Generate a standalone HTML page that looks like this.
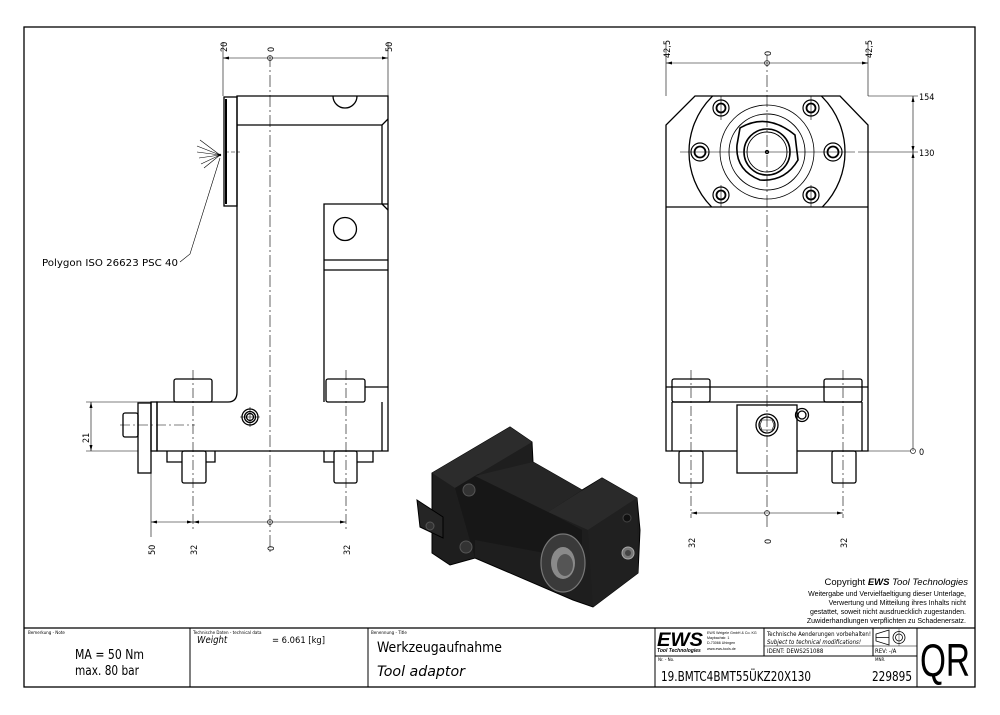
<!DOCTYPE html>
<html><head><meta charset="utf-8"><style>
html,body{margin:0;padding:0;background:#fff;}
svg{display:block;font-family:"DejaVu Sans Condensed","Liberation Sans",sans-serif;}
</style></head><body>
<svg width="1000" height="715" viewBox="0 0 1000 715" xmlns="http://www.w3.org/2000/svg">
<rect x="0" y="0" width="1000" height="715" fill="#fff"/>
<rect x="24" y="27" width="951" height="660" fill="none" stroke="#000" stroke-width="1.3"/>
<line x1="24" y1="628" x2="975" y2="628" stroke="#000" stroke-width="1.3"/>
<g stroke="#000" stroke-width="1" fill="none">
<line x1="190" y1="628" x2="190" y2="687"/>
<line x1="368" y1="628" x2="368" y2="687"/>
<line x1="655" y1="628" x2="655" y2="687"/>
<line x1="764" y1="628" x2="764" y2="656"/>
<line x1="873" y1="628" x2="873" y2="656"/>
<line x1="917" y1="628" x2="917" y2="687"/>
<line x1="764" y1="646" x2="917" y2="646" stroke-width="0.6"/>
<line x1="655" y1="656" x2="917" y2="656"/>
<path d="M876 634 L889 630 L889 645 L876 641 Z M876 637.5 H889" stroke-width="0.8"/>
<circle cx="899" cy="637.5" r="6" stroke-width="0.8"/><circle cx="899" cy="637.5" r="3.5" stroke-width="0.8"/>
<line x1="899" y1="629" x2="899" y2="646" stroke-width="0.4"/>
</g>
<g font-size="4.5" fill="#000">
<text x="28" y="634">Bemerkung - Note</text>
<text x="193" y="634">Technische Daten - technical data</text>
<text x="371" y="634">Benennung - Title</text>
<text x="658" y="661">Nr. - No.</text>
<text x="875" y="661">MNR.</text>
</g>
<g fill="#000">
<text x="75" y="659" font-size="13" textLength="69" lengthAdjust="spacingAndGlyphs">MA = 50 Nm</text>
<text x="75" y="675" font-size="13" textLength="64" lengthAdjust="spacingAndGlyphs">max. 80 bar</text>
<text x="197" y="643" font-size="9.5" font-style="italic">Weight</text>
<text x="272" y="643" font-size="9" textLength="53" lengthAdjust="spacingAndGlyphs">=  6.061 [kg]</text>
<text x="377" y="652" font-size="14" textLength="125" lengthAdjust="spacingAndGlyphs">Werkzeugaufnahme</text>
<text x="377" y="676" font-size="14" font-style="italic" textLength="88" lengthAdjust="spacingAndGlyphs">Tool adaptor</text>
<text x="661" y="681" font-size="13" textLength="150" lengthAdjust="spacingAndGlyphs">19.BMTC4BMT55ÜKZ20X130</text>
<text x="872" y="681" font-size="13" textLength="40" lengthAdjust="spacingAndGlyphs">229895</text>
<text x="920" y="676" font-size="46" font-family="Liberation Sans, sans-serif" textLength="50" lengthAdjust="spacingAndGlyphs">QR</text>
<text x="767" y="636" font-size="6.3" textLength="104" lengthAdjust="spacingAndGlyphs">Technische Aenderungen vorbehalten!</text>
<text x="767" y="644" font-size="6.3" font-style="italic" textLength="94" lengthAdjust="spacingAndGlyphs">Subject to technical modifications!</text>
<text x="767" y="653" font-size="6">IDENT:  DEWS251088</text>
<text x="875" y="653" font-size="6">REV:  -/A</text>
<text x="657" y="646" font-size="19" font-weight="bold" font-style="italic" font-family="Liberation Sans, sans-serif" textLength="46" lengthAdjust="spacingAndGlyphs">EWS</text>
<text x="657" y="652" font-size="5" font-weight="bold" font-style="italic" font-family="Liberation Sans, sans-serif">Tool Technologies</text>
<g font-size="3.6" font-family="Liberation Sans, sans-serif">
<text x="707" y="634">EWS Weigele GmbH &amp; Co. KG</text>
<text x="707" y="639">Maybachstr. 1</text>
<text x="707" y="644">D-73066 Uhingen</text>
<text x="707" y="650">www.ews-tools.de</text>
</g>
<g font-family="Liberation Sans, sans-serif">
<text x="968" y="585" font-size="9.5" text-anchor="end">Copyright <tspan font-weight="bold" font-style="italic">EWS</tspan><tspan font-style="italic"> Tool Technologies</tspan></text>
<text x="966" y="596" font-size="7" text-anchor="end">Weitergabe und Vervielfaeltigung dieser Unterlage,</text>
<text x="966" y="605" font-size="7" text-anchor="end">Verwertung und Mitteilung ihres Inhalts nicht</text>
<text x="966" y="614" font-size="7" text-anchor="end">gestattet, soweit nicht ausdruecklich zugestanden.</text>
<text x="966" y="623" font-size="7" text-anchor="end">Zuwiderhandlungen verpflichten zu Schadenersatz.</text>
</g>
</g>

<!-- LEFT VIEW -->
<g stroke="#000" fill="none" stroke-width="1.3">
<rect x="224" y="97" width="13" height="109"/>
<line x1="226" y1="99" x2="226" y2="204" stroke-width="2"/>
<path d="M237 96 H388 V451 H157 V402 H228 Q237 402 237 392 Z"/>
<line x1="237" y1="125" x2="382" y2="125"/>
<path d="M388 119 L382 125 V204 M382 204 L388 210"/>
<path d="M388 204 H324 V402"/>
<line x1="324" y1="260" x2="388" y2="260"/>
<line x1="324" y1="270" x2="388" y2="270"/>
<circle cx="345" cy="229" r="11.5"/>
<path d="M333 96 A12 12 0 0 0 357 96"/>
<line x1="382" y1="402" x2="382" y2="451"/>
<rect x="151" y="402" width="6" height="49"/>
<rect x="138" y="403" width="13" height="70"/>
<rect x="123" y="413" width="15" height="24" rx="2"/>
<rect x="174" y="379" width="38" height="23" rx="2"/>
<rect x="326" y="379" width="39" height="23" rx="2"/>
<line x1="365" y1="387" x2="388" y2="387"/>
<path d="M167 451 V462 H182 M206 462 H215 V451"/>
<rect x="182" y="451" width="24" height="32" rx="2"/>
<path d="M324 451 V462 H334 M357 462 H373 V451"/>
<rect x="334" y="451" width="23" height="32" rx="2"/>
<circle cx="250" cy="417" r="8"/><circle cx="250" cy="417" r="5.5"/><circle cx="250" cy="417" r="3.5"/>
</g>
<g stroke="#000" fill="none" stroke-width="0.6">
<line x1="270" y1="55" x2="270" y2="555" stroke-dasharray="12,3,2,3"/>
<line x1="193" y1="370" x2="193" y2="530" stroke-dasharray="10,3,2,3"/>
<line x1="346" y1="370" x2="346" y2="530" stroke-dasharray="10,3,2,3"/>
<line x1="120" y1="425" x2="195" y2="425" stroke-dasharray="10,3,2,3"/>
<line x1="240" y1="417" x2="260" y2="417"/><line x1="250" y1="407" x2="250" y2="427"/>
<line x1="225" y1="152" x2="240" y2="152" stroke-dasharray="4,2"/>
<line x1="223" y1="42" x2="223" y2="96"/><line x1="388" y1="42" x2="388" y2="96"/>
<line x1="223" y1="58" x2="388" y2="58"/>
<circle cx="270" cy="58" r="2.5"/>
<line x1="151" y1="473" x2="151" y2="537"/>
<line x1="151" y1="522" x2="346" y2="522"/>
<circle cx="270" cy="522" r="2.5"/>
<line x1="86" y1="402" x2="157" y2="402"/><line x1="86" y1="451" x2="138" y2="451"/>
<line x1="91" y1="402" x2="91" y2="451"/>
<polyline points="180,262 190,254 220,158"/>
<path d="M220 155 L200 140 M220 155 L197 146 M220 155 L197 152 M220 155 L199 158 M220 155 L201 164 M220 155 L204 168"/>
</g>
<g fill="#000">
<path d="M223 58 l6 -1.5 v3z M388 58 l-6 -1.5 v3z M151 522 l6 -1.5 v3z M193 522 l-6 -1.5 v3z M193 522 l6 -1.5 v3z M346 522 l-6 -1.5 v3z M91 402 l-1.5 6 h3z M91 451 l-1.5 -6 h3z"/>
<circle cx="220" cy="155" r="1.2"/>
</g>
<g font-size="9" fill="#000">
<text transform="translate(227,52) rotate(-90)">20</text>
<text transform="translate(274,52) rotate(-90)">0</text>
<text transform="translate(392,52) rotate(-90)">50</text>
<text transform="translate(155,555) rotate(-90)">50</text>
<text transform="translate(197,555) rotate(-90)">32</text>
<text transform="translate(274,551) rotate(-90)">0</text>
<text transform="translate(350,555) rotate(-90)">32</text>
<text transform="translate(89,443) rotate(-90)">21</text>
<text x="42" y="266" font-size="9.5" textLength="136" lengthAdjust="spacingAndGlyphs">Polygon ISO 26623 PSC 40</text>
</g>

<!-- RIGHT VIEW -->
<defs><clipPath id="fl"><rect x="660" y="96" width="215" height="111"/></clipPath></defs>
<g stroke="#000" fill="none" stroke-width="1.3">
<path d="M695 96 H840 L868 125 V451 H666 V125 Z"/>
<line x1="666" y1="207" x2="868" y2="207"/>
<circle cx="767" cy="152" r="78" clip-path="url(#fl)"/>
<circle cx="767" cy="152" r="47" stroke-width="0.8"/>
<circle cx="767" cy="152" r="38" stroke-width="0.9"/>
<path d="M740 128 Q767 112 795 135 L798 160 Q785 182 760 180 Q735 170 737 145 Z" stroke-width="1.6"/>
<circle cx="767" cy="152" r="23" stroke-width="1.6"/>
<circle cx="767" cy="152" r="20" stroke-width="0.9"/>
<circle cx="767" cy="152" r="1.5"/>
<g stroke-width="1.2">
<circle cx="721" cy="108" r="8"/><circle cx="721" cy="108" r="4.5" stroke-width="1.8"/>
<circle cx="811" cy="108" r="8"/><circle cx="811" cy="108" r="4.5" stroke-width="1.8"/>
<circle cx="721" cy="195" r="8"/><circle cx="721" cy="195" r="4.5" stroke-width="1.8"/>
<circle cx="811" cy="195" r="8"/><circle cx="811" cy="195" r="4.5" stroke-width="1.8"/>
<circle cx="700" cy="152" r="9"/><circle cx="700" cy="152" r="5.5" stroke-width="1.8"/>
<circle cx="833" cy="152" r="9"/><circle cx="833" cy="152" r="5.5" stroke-width="1.8"/>
</g>
<line x1="666" y1="387" x2="868" y2="387"/>
<rect x="672" y="379" width="38" height="23" rx="2"/>
<rect x="824" y="379" width="38" height="23" rx="2"/>
<line x1="672" y1="402" x2="862" y2="402"/>
<line x1="672" y1="402" x2="672" y2="451"/><line x1="862" y1="402" x2="862" y2="451"/>
<rect x="737" y="405" width="60" height="68" fill="#fff"/>
<circle cx="767" cy="425" r="11"/><circle cx="767" cy="425" r="8"/>
<path d="M762 420 h10 l2 5 l-2 5 h-10 l-2 -5z" stroke-width="0.6"/>
<circle cx="802" cy="415" r="6.5"/><circle cx="802" cy="415" r="4"/>
<rect x="679" y="451" width="24" height="32" rx="2"/>
<rect x="832" y="451" width="24" height="32" rx="2"/>
</g>
<g stroke="#000" fill="none" stroke-width="0.6">
<line x1="767" y1="55" x2="767" y2="530" stroke-dasharray="12,3,2,3"/>
<line x1="691" y1="370" x2="691" y2="518" stroke-dasharray="10,3,2,3"/>
<line x1="843" y1="370" x2="843" y2="518" stroke-dasharray="10,3,2,3"/>
<line x1="680" y1="152" x2="855" y2="152"/>
<line x1="721" y1="96" x2="721" y2="120"/><line x1="811" y1="96" x2="811" y2="120"/>
<line x1="721" y1="185" x2="721" y2="207"/><line x1="811" y1="185" x2="811" y2="207"/>
<line x1="666" y1="42" x2="666" y2="96"/><line x1="868" y1="42" x2="868" y2="96"/>
<line x1="666" y1="63" x2="868" y2="63"/>
<circle cx="767" cy="63" r="2.5"/>
<line x1="868" y1="96" x2="918" y2="96"/><line x1="858" y1="152" x2="918" y2="152"/>
<line x1="868" y1="451" x2="911" y2="451"/>
<line x1="913" y1="96" x2="913" y2="451"/>
<circle cx="913" cy="451" r="2.5"/>
<line x1="691" y1="513" x2="843" y2="513"/>
<circle cx="767" cy="513" r="2.5"/>
</g>
<g fill="#000">
<path d="M666 63 l6 -1.5 v3z M868 63 l-6 -1.5 v3z M913 96 l-1.5 6 h3z M913 152 l-1.5 -6 h3z M913 152 l-1.5 6 h3z M691 513 l6 -1.5 v3z M843 513 l-6 -1.5 v3z"/>
</g>
<g font-size="9" fill="#000">
<text transform="translate(670,58) rotate(-90)">42,5</text>
<text transform="translate(771,56) rotate(-90)">0</text>
<text transform="translate(872,58) rotate(-90)">42,5</text>
<text x="919" y="100">154</text>
<text x="919" y="156">130</text>
<text x="919" y="455">0</text>
<text transform="translate(695,548) rotate(-90)">32</text>
<text transform="translate(771,544) rotate(-90)">0</text>
<text transform="translate(847,548) rotate(-90)">32</text>
</g>

<!-- ISOMETRIC -->
<g>
<polygon points="432,473 510,427 532,442 533,462 582,490 602,478 637,498 640,530 638,573 593,607 573,600 475,558 450,565 432,553" fill="#1e1e1e" stroke="#000"/>
<polygon points="432,473 510,427 532,442 455,488" fill="#2c2c2c"/>
<polygon points="455,488 478,474 582,530 582,560 475,540 475,558" fill="#171717"/>
<polygon points="475,476 533,462 582,490 548,512" fill="#262626"/>
<polygon points="548,512 602,478 637,498 588,530" fill="#2a2a2a"/>
<polygon points="588,530 637,498 638,573 593,607" fill="#202020"/>
<polygon points="417,500 443,517 443,538 420,527" fill="#252525" stroke="#000"/>
<ellipse cx="563" cy="563" rx="22" ry="29" fill="#3a3a3a" stroke="#777" stroke-width="1.2"/>
<ellipse cx="563" cy="563" rx="12" ry="16" fill="#8a8a8a"/>
<ellipse cx="565" cy="565" rx="8" ry="11" fill="#555"/>
<circle cx="469" cy="490" r="6" fill="#333" stroke="#555"/>
<circle cx="466" cy="547" r="6" fill="#333" stroke="#555"/>
<circle cx="430" cy="526" r="4" fill="#333" stroke="#555"/>
<circle cx="628" cy="553" r="6" fill="#777" stroke="#aaa"/>
<circle cx="628" cy="553" r="3" fill="#444"/>
<circle cx="627" cy="518" r="4" fill="#111" stroke="#444"/>
</g>
</svg>
</body></html>
